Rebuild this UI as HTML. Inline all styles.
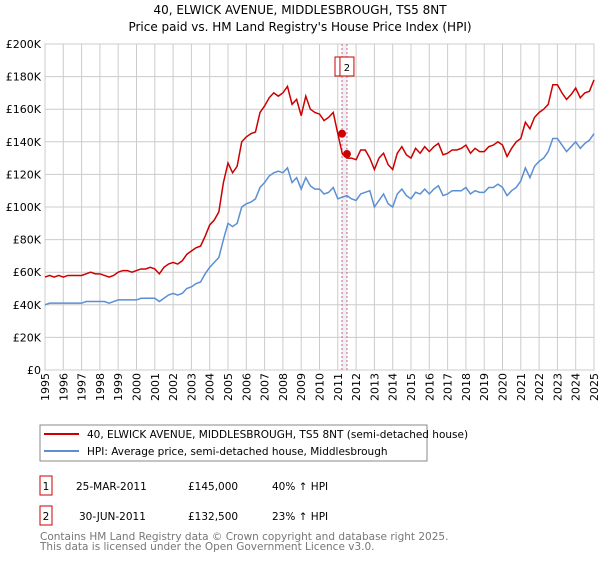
<!DOCTYPE html>
<html><head><meta charset="utf-8"><style>
body{margin:0;background:#fff;font-family:"DejaVu Sans","Liberation Sans",sans-serif;}
svg text{font-family:"DejaVu Sans","Liberation Sans",sans-serif;}
</style></head><body>
<svg id="c" width="600" height="560" xmlns="http://www.w3.org/2000/svg">
<text x="300" y="14" text-anchor="middle" font-size="12">40, ELWICK AVENUE, MIDDLESBROUGH, TS5 8NT</text>
<text x="300" y="31" text-anchor="middle" font-size="12">Price paid vs. HM Land Registry's House Price Index (HPI)</text>
<g id="grid"></g><g id="marks"></g>
<g>
<rect x="40" y="425" width="387" height="36" fill="#fff" stroke="#888"/>
<line x1="44" y1="434" x2="79" y2="434" stroke="#cc0000" stroke-width="2"/>
<text x="87" y="438" font-size="10.5">40, ELWICK AVENUE, MIDDLESBROUGH, TS5 8NT (semi-detached house)</text>
<line x1="44" y1="451" x2="79" y2="451" stroke="#5b8fd4" stroke-width="2"/>
<text x="87" y="455" font-size="10.5">HPI: Average price, semi-detached house, Middlesbrough</text>
</g>
<g font-size="10.5">
<rect x="40" y="476" width="12" height="19" fill="none" stroke="#cc0000"/><text x="46" y="490" text-anchor="middle">1</text>
<text x="76" y="490">25-MAR-2011</text><text x="188" y="490">£145,000</text><text x="272" y="490">40% ↑ HPI</text>
<rect x="40" y="506" width="12" height="19" fill="none" stroke="#cc0000"/><text x="46" y="520" text-anchor="middle">2</text>
<text x="79" y="520">30-JUN-2011</text><text x="188" y="520">£132,500</text><text x="272" y="520">23% ↑ HPI</text>
</g>
<text x="40" y="540" font-size="10.5" fill="#777">Contains HM Land Registry data © Crown copyright and database right 2025.</text>
<text x="40" y="550" font-size="10.5" fill="#777">This data is licensed under the Open Government Licence v3.0.</text>
</svg>
<script>
const yTicks=[0,20,40,60,80,100,120,140,160,180,200];
const yTickLabels=["£0","£20K","£40K","£60K","£80K","£100K","£120K","£140K","£160K","£180K","£200K"];
const xYears=[1995,1996,1997,1998,1999,2000,2001,2002,2003,2004,2005,2006,2007,2008,2009,2010,2011,2012,2013,2014,2015,2016,2017,2018,2019,2020,2021,2022,2023,2024,2025];
const hpi=[40,41,41,41,41,41,41,41,41,42,42,42,42,42,41,42,43,43,43,43,43,44,44,44,44,42,44,46,47,46,47,50,51,53,54,59,63,66,69,80,90,88,90,100,102,103,105,112,115,119,121,122,121,124,115,118,111,118,113,111,111,108,109,112,105,106,107,105,104,108,109,110,100,104,108,102,100,108,111,107,105,109,108,111,108,111,113,107,108,110,110,110,112,108,110,109,109,112,112,114,112,107,110,112,116,124,118,125,128,130,134,142,142,138,134,137,140,136,139,141,145];
const price=[57,58,57,58,57,58,58,58,58,59,60,59,59,58,57,58,60,61,61,60,61,62,62,63,62,59,63,65,66,65,67,71,73,75,76,82,89,92,97,115,127,121,125,140,143,145,146,158,162,167,170,168,170,174,163,166,156,168,160,158,157,153,155,158,145,132.5,130,130,129,135,135,130,123,130,133,126,123,133,137,132,130,136,133,137,134,137,139,132,133,135,135,136,138,133,136,134,134,137,138,140,138,131,136,140,142,152,148,155,158,160,163,175,175,170,166,169,173,167,170,171,178];
const saleDates=[2011.23,2011.5];
const saleValues=[145,132.5];
const saleLabels=["1","2"];
const NS="http://www.w3.org/2000/svg";
const X0=45,X1=594,Y0=370,Y1=44;
const x=t=>X0+(t-1995)/30*(X1-X0);
const y=v=>Y0-v/200*(Y0-Y1);
const T=i=>1995+i*0.25;
function mk(tag,attrs,parent){const e=document.createElementNS(NS,tag);for(const k in attrs)e.setAttribute(k,attrs[k]);parent.appendChild(e);return e;}
const g=document.getElementById('grid'),m=document.getElementById('marks');
yTicks.forEach((v,i)=>{
 const l=mk('line',{x1:X0,x2:X1,y1:y(v),y2:y(v),stroke:'#ccc'},g);
 
 
 const t=mk('text',{x:X0-4,y:y(v)+4,'text-anchor':'end','font-size':'11'},g);
 
 
 t.textContent=yTickLabels[i];
});
xYears.forEach(yr=>{
 const l=mk('line',{x1:x(yr),x2:x(yr),y1:Y1,y2:Y0,stroke:'#ccc'},g);
 
 
 const t=mk('text',{x:0,y:0,'text-anchor':'end','font-size':'11',transform:`translate(${x(yr)+4},373) rotate(-90)`},g);
 
 
 t.textContent=yr;
});
mk('rect',{x:X0,y:Y1,width:X1-X0,height:Y0-Y1,fill:'none',stroke:'#ccc'},g);
const band=mk('rect',{x:x(saleDates[0]),y:Y1,width:x(saleDates[1])-x(saleDates[0]),height:Y0-Y1,fill:'#dde8f8',opacity:0.6},m);


saleDates.forEach((d,i)=>{
 const l=mk('line',{x1:x(d),x2:x(d),y1:Y1,y2:Y0,stroke:'#e06060','stroke-dasharray':'2,2'},m);
 
 
});
const hp=mk('polyline',{points:hpi.map((v,i)=>x(T(i))+','+y(v)).join(' '),fill:'none',stroke:'#5b8fd4','stroke-width':1.5},m);


const pp=mk('polyline',{points:price.map((v,i)=>x(T(i))+','+y(v)).join(' '),fill:'none',stroke:'#cc0000','stroke-width':1.5},m);


saleDates.forEach((d,i)=>{
 const c=mk('circle',{cx:x(d),cy:y(saleValues[i]),r:4,fill:'#cc0000'},m);
 
 
 const r=mk('rect',{x:x(d)-7,y:57,width:14,height:19,fill:'#fff',stroke:'#cc0000'},m);
 
 
 const t=mk('text',{x:x(d),y:71,'text-anchor':'middle','font-size':'10'},m);
 
 
 t.textContent=saleLabels[i];
});
</script>
</body></html>
